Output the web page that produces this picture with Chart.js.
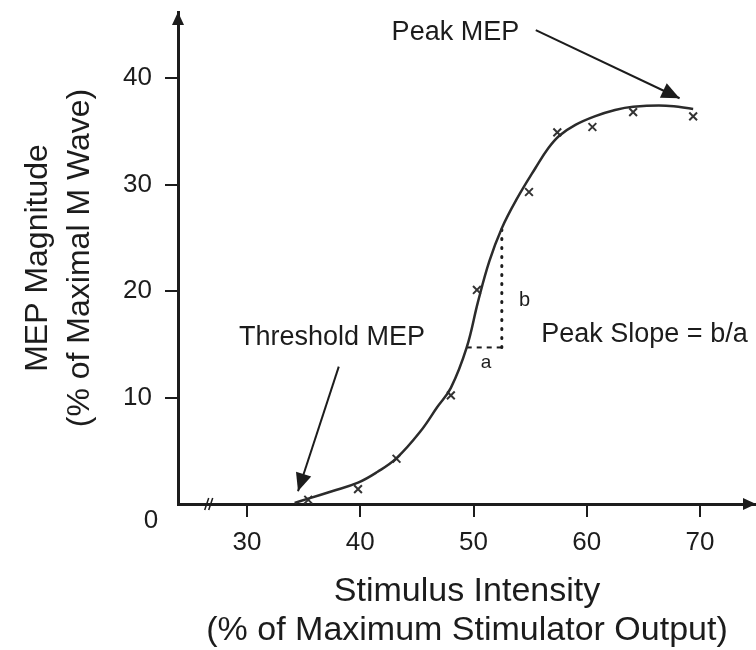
<!DOCTYPE html>
<html>
<head>
<meta charset="utf-8">
<script src="https://cdn.jsdelivr.net/npm/chart.js@4.4.0/dist/chart.umd.min.js"></script>
<style>
  html, body { margin: 0; padding: 0; background: #fff; }
  #wrap { width: 756px; height: 650px; }
</style>
</head>
<body>
<div id="wrap"><canvas id="mep-curve" width="756" height="650"></canvas></div>
<script>
// measured points: stimulus intensity (% max output) vs MEP size (% of M wave)
const pointIntensity = [35.4, 39.8, 43.2, 48.0, 50.3, 54.9, 57.4, 60.5, 64.1, 69.4];
const pointMep = [0.4, 1.4, 4.25, 10.2, 20.1, 29.3, 34.9, 35.4, 36.8, 36.4];

// fitted sigmoid
const curveIntensity = [34.2, 35.4, 37.5, 39.8, 41.5, 43.2, 45.3, 46.8, 48.0, 49.4, 50.4, 51.4, 52.5, 53.8, 55.5, 56.6, 57.6, 59.0, 60.7, 62.5, 64.1, 67.0, 69.4];
const curveMep = [0.1, 0.5, 1.2, 2.0, 3.0, 4.3, 6.8, 9.1, 10.9, 14.7, 19.0, 22.8, 25.9, 28.6, 31.6, 33.4, 34.6, 35.6, 36.4, 37.0, 37.3, 37.4, 37.1];

// slope triangle: a (dashed) and b (dotted)
const slopeAx = [49.4, 52.5];
const slopeAy = [14.7, 14.7];
const slopeBx = [52.5, 52.5];
const slopeBy = [14.7, 25.9];

const xTicks = [30, 40, 50, 60, 70];
const yTicks = [10, 20, 30, 40];
const axisBreak = 26.7;

const FONT = '"Liberation Sans", Arial, Helvetica, sans-serif';
const ink = '#1c1c1c';

const toXY = (xs, ys) => xs.map((v, i) => ({x: v, y: ys[i]}));

// labels and arrows, placed in data units
const notes = [
    {text: 'Peak MEP', x: 48.4, y: 44.3, size: 27},
    {text: 'Threshold MEP', x: 37.5, y: 15.6, size: 27},
    {text: 'Peak Slope = b/a', x: 65.1, y: 15.9, size: 27},
    {text: 'a', x: 51.1, y: 13.3, size: 19},
    {text: 'b', x: 54.5, y: 19.1, size: 20}
];
const arrows = [
    {from: [55.5, 44.5], to: [68.2, 38.1]},
    {from: [38.1, 12.9], to: [34.5, 1.2]}
];

function arrowHead(ctx, x1, y1, x2, y2, len, half) {
    const ang = Math.atan2(y2 - y1, x2 - x1);
    const bx = x2 - len * Math.cos(ang), by = y2 - len * Math.sin(ang);
    ctx.beginPath();
    ctx.moveTo(x2, y2);
    ctx.lineTo(bx + half * Math.sin(ang), by - half * Math.cos(ang));
    ctx.lineTo(bx - half * Math.sin(ang), by + half * Math.cos(ang));
    ctx.closePath();
    ctx.fill();
}

const extras = {
    id: 'extras',
    afterDraw(chart) {
        const {ctx, chartArea: area, scales: {x, y}} = chart;
        ctx.save();
        ctx.fillStyle = ink;
        ctx.strokeStyle = ink;

        // arrowheads on both axes
        arrowHead(ctx, area.left, area.bottom, area.left, area.top, 13, 6);
        arrowHead(ctx, area.left, area.bottom, area.right, area.bottom, 13, 6);

        // break mark on the x axis
        const bx = x.getPixelForValue(axisBreak);
        const by = y.getPixelForValue(0);
        ctx.lineWidth = 1.5;
        ctx.beginPath();
        ctx.moveTo(bx - 5, by + 6); ctx.lineTo(bx - 1, by - 6);
        ctx.moveTo(bx - 1, by + 6); ctx.lineTo(bx + 3, by - 6);
        ctx.stroke();

        // the shared zero sits below the corner
        ctx.font = '26px ' + FONT;
        ctx.textAlign = 'center';
        ctx.textBaseline = 'middle';
        ctx.fillText('0', area.left - 27, by + 17);

        // pointer arrows
        ctx.lineWidth = 2;
        arrows.forEach(a => {
            const x1 = x.getPixelForValue(a.from[0]), y1 = y.getPixelForValue(a.from[1]);
            const x2 = x.getPixelForValue(a.to[0]), y2 = y.getPixelForValue(a.to[1]);
            ctx.beginPath();
            ctx.moveTo(x1, y1);
            ctx.lineTo(x2, y2);
            ctx.stroke();
            arrowHead(ctx, x1, y1, x2, y2, 18, 8);
        });

        notes.forEach(n => {
            ctx.font = n.size + 'px ' + FONT;
            ctx.fillText(n.text, x.getPixelForValue(n.x), y.getPixelForValue(n.y));
        });
        ctx.restore();
    }
};

const axisBorder = {display: true, color: ink, width: 3};
const tickGrid = {display: true, drawOnChartArea: false, drawTicks: true, tickLength: 13, color: ink, lineWidth: 2};

new Chart(document.getElementById('mep-curve'), {
    type: 'line',
    data: {
        datasets: [{
            label: 'fit',
            data: toXY(curveIntensity, curveMep),
            borderColor: '#2b2b2b',
            borderWidth: 2.5,
            pointRadius: 0,
            tension: 0.4,
            fill: false
        }, {
            label: 'measured',
            data: toXY(pointIntensity, pointMep),
            showLine: false,
            pointStyle: 'crossRot',
            pointRadius: 5.5,
            borderColor: '#333',
            borderWidth: 2
        }, {
            label: 'a',
            data: toXY(slopeAx, slopeAy),
            borderColor: ink,
            borderWidth: 2,
            borderDash: [5, 5],
            pointRadius: 0
        }, {
            label: 'b',
            data: toXY(slopeBx, slopeBy),
            borderColor: ink,
            borderWidth: 3,
            borderDash: [1, 8],
            borderCapStyle: 'round',
            pointRadius: 0
        }]
    },
    options: {
        responsive: false,
        animation: false,
        devicePixelRatio: 1,
        layout: {autoPadding: false, padding: {top: 12, right: 0, bottom: 0, left: 0}},
        plugins: {
            legend: {display: false},
            tooltip: {enabled: false}
        },
        scales: {
            x: {
                type: 'linear',
                min: 23.9,
                max: 74.95,
                afterBuildTicks: s => { s.ticks = xTicks.map(v => ({value: v})); },
                afterFit: s => { s.height = 146; s.paddingLeft = 0; s.paddingRight = 0; },
                border: axisBorder,
                grid: tickGrid,
                ticks: {
                    color: ink,
                    padding: 10,
                    autoSkip: false,
                    maxRotation: 0,
                    font: {family: FONT, size: 26}
                },
                title: {
                    display: true,
                    text: ['Stimulus Intensity', '(% of Maximum Stimulator Output)'],
                    color: ink,
                    padding: {top: 0, bottom: 0},
                    font: {family: FONT, size: 34, lineHeight: 1.15}
                }
            },
            y: {
                type: 'linear',
                min: 0,
                max: 46.2,
                afterBuildTicks: s => { s.ticks = yTicks.map(v => ({value: v})); },
                afterFit: s => { s.width = 178; s.paddingTop = 0; s.paddingBottom = 0; },
                border: axisBorder,
                grid: tickGrid,
                ticks: {
                    color: ink,
                    padding: 13,
                    font: {family: FONT, size: 26}
                },
                title: {
                    display: true,
                    text: ['MEP Magnitude', '(% of Maximal M Wave)'],
                    color: ink,
                    padding: {top: 17, bottom: 0},
                    font: {family: FONT, size: 32, lineHeight: 1.31}
                }
            }
        }
    },
    plugins: [extras]
});
</script>
</body>
</html>
